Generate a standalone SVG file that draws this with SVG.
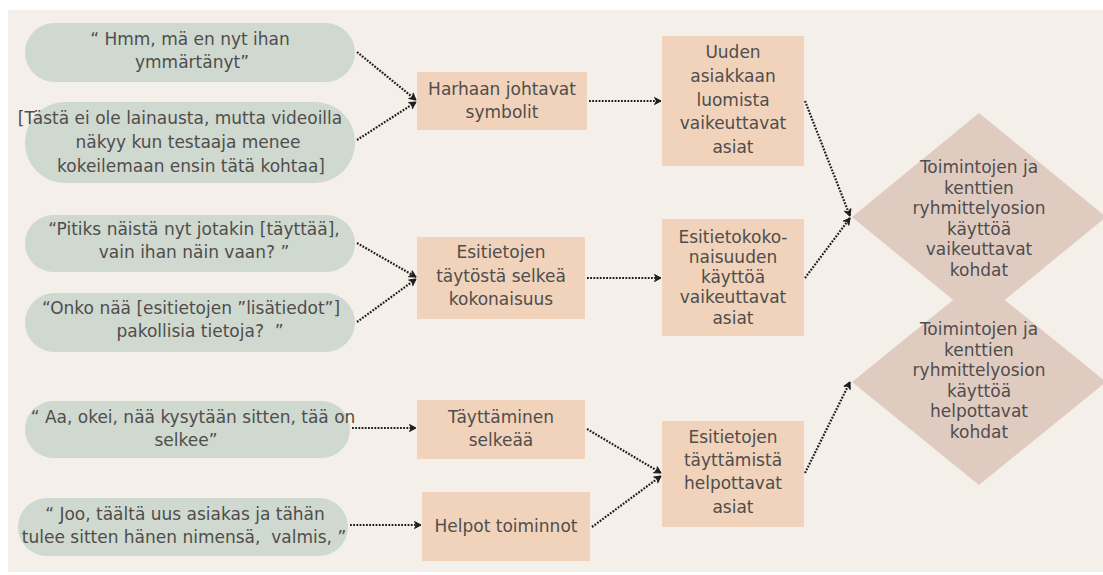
<svg xmlns="http://www.w3.org/2000/svg" width="1103" height="575" viewBox="0 0 1103 575">
  <defs>
    <marker id="arrow" viewBox="0 0 9 9" refX="8" refY="4.5" markerWidth="9" markerHeight="9" markerUnits="userSpaceOnUse" orient="auto">
      <path d="M1.5,1 L8,4.5 L1.5,8 L3.5,4.5 Z" fill="#1e1e1e" stroke="#1e1e1e" stroke-width="1" stroke-linejoin="round"/>
    </marker>
  </defs>
  <style>
    text { font-family: "DejaVu Sans", "Noto Sans", sans-serif; font-size: 17px; fill: #4f4d4d; text-anchor: middle; }
    .quote { fill: #cfd9cf; }
    .box { fill: #f0d3ba; }
    .diamond { fill: #e0cbc1; }
    .link { fill: none; stroke: #1e1e1e; stroke-width: 2.2; stroke-dasharray: 1.8 1.4; marker-end: url(#arrow); }
  </style>

  <rect x="0" y="0" width="1103" height="575" fill="#ffffff"/>
  <rect x="8" y="10" width="1095" height="562" fill="#f4efe9"/>

  <!-- quote bubbles -->
  <g id="q1">
    <rect class="quote" x="25" y="23" width="330" height="59" rx="29.5"/>
    <text x="190" y="45">“ Hmm, mä en nyt ihan</text>
    <text x="192" y="68">ymmärtänyt”</text>
  </g>
  <g id="q2">
    <rect class="quote" x="25" y="102" width="330" height="81" rx="40"/>
    <text x="180" y="124">[Tästä ei ole lainausta, mutta videoilla</text>
    <text x="188" y="148">näkyy kun testaaja menee</text>
    <text x="191" y="172">kokeilemaan ensin tätä kohtaa]</text>
  </g>
  <g id="q3">
    <rect class="quote" x="25" y="215" width="330" height="57" rx="28.5"/>
    <text x="194" y="235">“Pitiks näistä nyt jotakin [täyttää],</text>
    <text x="194" y="258">vain ihan näin vaan? ”</text>
  </g>
  <g id="q4">
    <rect class="quote" x="25" y="293" width="330" height="59" rx="29.5"/>
    <text x="191" y="314">“Onko nää [esitietojen ”lisätiedot”]</text>
    <text x="200" y="337" xml:space="preserve">pakollisia tietoja?  ”</text>
  </g>
  <g id="q5">
    <rect class="quote" x="25" y="401" width="325" height="57" rx="28.5"/>
    <text x="193" y="423">“ Aa, okei, nää kysytään sitten, tää on</text>
    <text x="186" y="446">selkee”</text>
  </g>
  <g id="q6">
    <rect class="quote" x="18" y="498" width="330" height="58" rx="29"/>
    <text x="185" y="520">“ Joo, täältä uus asiakas ja tähän</text>
    <text x="184" y="543" xml:space="preserve">tulee sitten hänen nimensä,  valmis, ”</text>
  </g>

  <!-- themes -->
  <g id="harhaan">
    <rect class="box" x="417" y="72" width="170" height="58"/>
    <text x="502" y="95">Harhaan johtavat</text>
    <text x="502" y="118">symbolit</text>
  </g>
  <g id="selkea-kokonaisuus">
    <rect class="box" x="417" y="237" width="168" height="82"/>
    <text x="501" y="258">Esitietojen</text>
    <text x="501" y="282">täytöstä selkeä</text>
    <text x="501" y="305">kokonaisuus</text>
  </g>
  <g id="tayttaminen">
    <rect class="box" x="417" y="400" width="168" height="59"/>
    <text x="501" y="423">Täyttäminen</text>
    <text x="501" y="446">selkeää</text>
  </g>
  <g id="helpot">
    <rect class="box" x="422" y="492" width="168" height="69"/>
    <text x="506" y="532">Helpot toiminnot</text>
  </g>

  <!-- categories -->
  <g id="uuden-asiakkaan">
    <rect class="box" x="662" y="36" width="142" height="130"/>
    <text x="733" y="58">Uuden</text>
    <text x="733" y="82">asiakkaan</text>
    <text x="733" y="106">luomista</text>
    <text x="733" y="129">vaikeuttavat</text>
    <text x="733" y="153">asiat</text>
  </g>
  <g id="esitietokokonaisuus">
    <rect class="box" x="662" y="219" width="142" height="117"/>
    <text x="733" y="243">Esitietokoko-</text>
    <text x="733" y="263">naisuuden</text>
    <text x="733" y="283">käyttöä</text>
    <text x="733" y="303">vaikeuttavat</text>
    <text x="733" y="324">asiat</text>
  </g>
  <g id="taytto-helpottavat">
    <rect class="box" x="662" y="421" width="142" height="106"/>
    <text x="733" y="443">Esitietojen</text>
    <text x="733" y="466">täyttämistä</text>
    <text x="733" y="489">helpottavat</text>
    <text x="733" y="513">asiat</text>
  </g>

  <!-- summary diamonds -->
  <g id="vaikeuttavat-kohdat">
    <polygon class="diamond" points="979,113 1106,217 979,321 852,217"/>
    <text x="979" y="173">Toimintojen ja</text>
    <text x="979" y="193.5">kenttien</text>
    <text x="979" y="214">ryhmittelyosion</text>
    <text x="979" y="234.5">käyttöä</text>
    <text x="979" y="255">vaikeuttavat</text>
    <text x="979" y="275.5">kohdat</text>
  </g>
  <g id="helpottavat-kohdat">
    <polygon class="diamond" points="979,279 1106,382 979,485 852,382"/>
    <text x="979" y="335">Toimintojen ja</text>
    <text x="979" y="355.5">kenttien</text>
    <text x="979" y="376">ryhmittelyosion</text>
    <text x="979" y="396.5">käyttöä</text>
    <text x="979" y="417">helpottavat</text>
    <text x="979" y="437.5">kohdat</text>
  </g>

  <!-- connectors -->
  <g id="connectors">
    <line class="link" x1="357" y1="52" x2="416" y2="100"/>
    <line class="link" x1="357" y1="140" x2="416" y2="102"/>
    <line class="link" x1="589" y1="101" x2="661" y2="101"/>
    <line class="link" x1="357" y1="243" x2="416" y2="277"/>
    <line class="link" x1="357" y1="322" x2="416" y2="279"/>
    <line class="link" x1="587" y1="278" x2="661" y2="278"/>
    <line class="link" x1="352" y1="428" x2="416" y2="428"/>
    <line class="link" x1="350" y1="525" x2="421" y2="525"/>
    <line class="link" x1="587" y1="429" x2="661" y2="473"/>
    <line class="link" x1="592" y1="527" x2="661" y2="476"/>
    <line class="link" x1="805" y1="101" x2="850" y2="216"/>
    <line class="link" x1="805" y1="278" x2="850" y2="218"/>
    <line class="link" x1="805" y1="473" x2="850" y2="382"/>
  </g>
</svg>
